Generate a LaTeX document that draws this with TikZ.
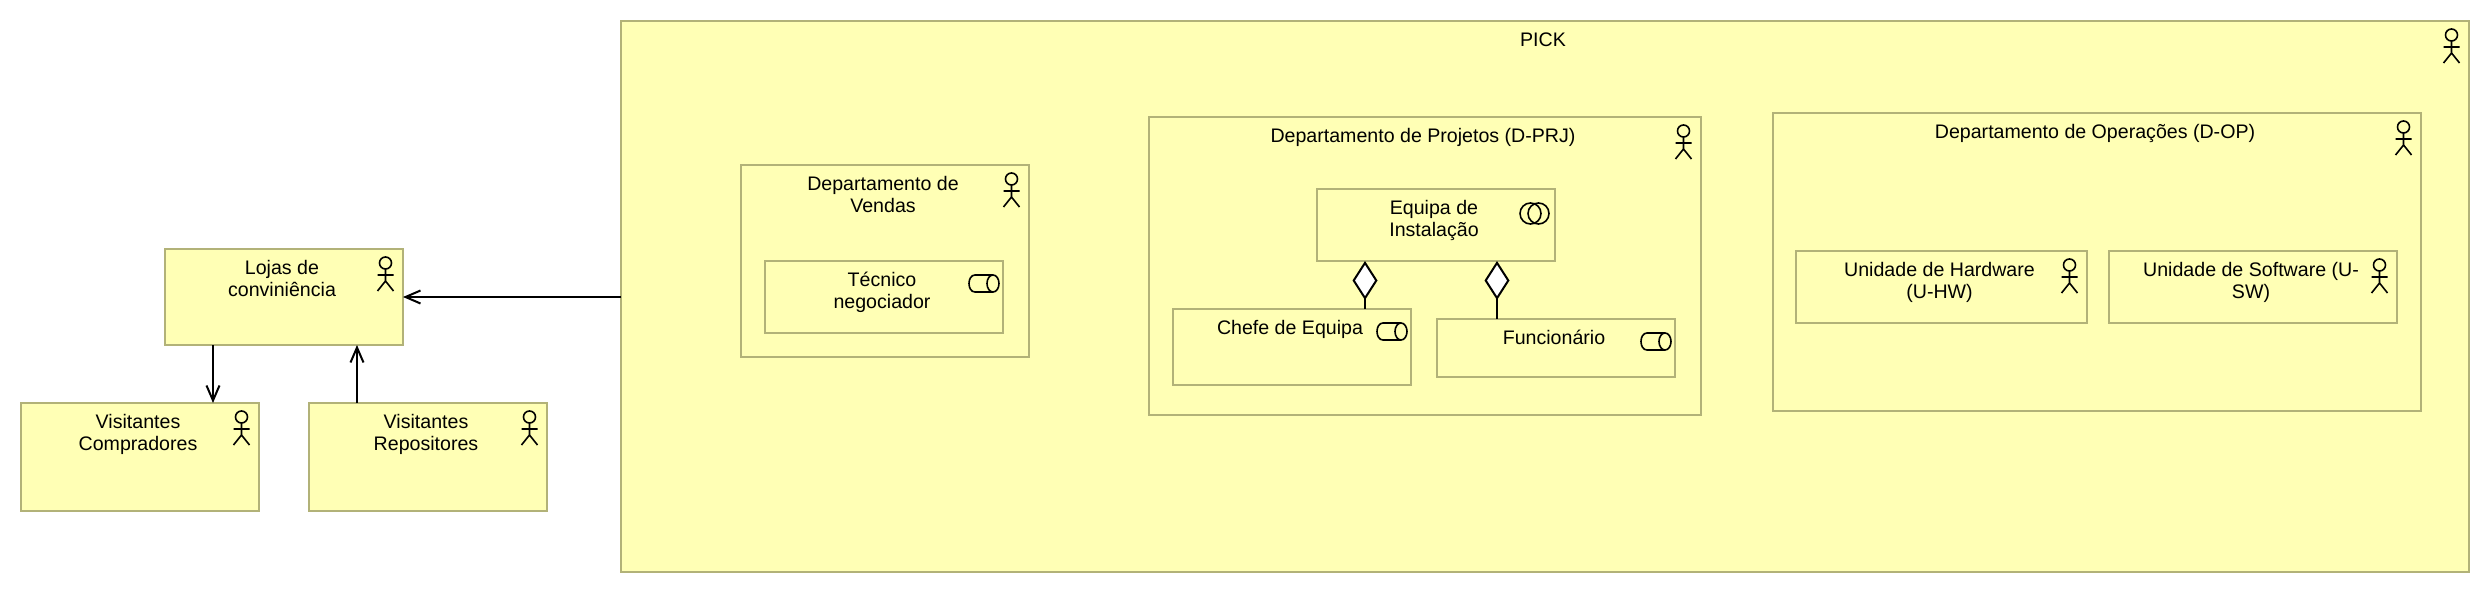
\documentclass[tikz,border=0pt]{standalone}
\usepackage{fontspec}
\setmainfont{Liberation Sans}
\usetikzlibrary{arrows.meta,positioning}
\definecolor{boxfill}{RGB}{255,255,181}
\definecolor{boxline}{RGB}{178,178,120}
\tikzset{
  actorfig/.pic={
    \draw (0,6) circle [radius=3pt];
    \draw (0,12) -- (0,24) (-8,18) -- (8,18) (-8,34) -- (0,24) -- (8,34);
  },
  rolefig/.pic={
    \draw (24,0) -- (6,0) .. controls (-2,0) and (-2,17) .. (6,17) -- (24,17);
    \draw (24,8.5) ellipse [x radius=6, y radius=8.5];
  },
  groupfig/.pic={
    \draw (10.5,10.5) circle [radius=5.25pt];
    \draw (18.5,10.5) circle [radius=5.25pt];
  }
}

\begin{document}
\begin{tikzpicture}
[x=0.5pt, y=-0.5pt, font=\fontsize{9.8}{11}\selectfont,
% STYLES
% The unit style is used to draw the frame of each element
unit/.style={rectangle, draw=boxline, fill=boxfill, line width=1pt, anchor=north west, inner sep=0pt, outer sep=0pt},
% The title style is used to write the name at the top of a frame
title/.style={inner sep=0pt, align=center, xshift=-1pt},
% The icon style is used for the small figures in the corners
every pic/.style={line width=0.8pt},
flow/.style={->, >={Straight Barb[length=7.5pt,width=6.5pt]}, line width=1pt},
part/.style={-{Diamond[fill=white,length=19.5pt,width=12.5pt]}, line width=1pt}]

\useasboundingbox (0,0) rectangle (2490,594);

% Draw frames
\node [unit, minimum width=924pt, minimum height=275.5pt] (pick) at (621,21) {};
\node [unit, minimum width=144pt, minimum height=96pt] (vendas) at (741,165) {};
\node [unit, minimum width=119pt, minimum height=36pt] (tecnico) at (765,261) {};
\node [unit, minimum width=276pt, minimum height=149pt] (projetos) at (1149,117) {};
\node [unit, minimum width=119pt, minimum height=36pt] (equipa) at (1317,189) {};
\node [unit, minimum width=119pt, minimum height=38pt] (chefe) at (1173,309) {};
\node [unit, minimum width=119pt, minimum height=29pt] (funcionario) at (1437,319) {};
\node [unit, minimum width=324pt, minimum height=149pt] (operacoes) at (1773,113) {};
\node [unit, minimum width=145.5pt, minimum height=36pt] (hardware) at (1796,251) {};
\node [unit, minimum width=144pt, minimum height=36pt] (software) at (2109,251) {};
\node [unit, minimum width=119pt, minimum height=48pt] (lojas) at (165,249) {};
\node [unit, minimum width=119pt, minimum height=54pt] (compradores) at (21,403) {};
\node [unit, minimum width=119pt, minimum height=54pt] (repositores) at (309,403) {};

%%%%%%%%%%%%%%%
% Names

\node [title, below=5.5pt of pick.north] (title-pick) {PICK};
\node [title, below=5.5pt of vendas.north] (title-vendas) {Departamento de\\Vendas};
\node [title, below=5.5pt of tecnico.north] (title-tecnico) {Técnico\\negociador};
\node [title, below=5.5pt of projetos.north] (title-projetos) {Departamento de Projetos (D-PRJ)};
\node [title, below=5.5pt of equipa.north] (title-equipa) {Equipa de\\Instalação};
\node [title, below=5.5pt of chefe.north] (title-chefe) {Chefe de Equipa};
\node [title, below=5.5pt of funcionario.north] (title-funcionario) {Funcionário};
\node [title, below=5.5pt of operacoes.north] (title-operacoes) {Departamento de Operações (D-OP)};
\node [title, below=5.5pt of hardware.north] (title-hardware) {Unidade de Hardware\\(U-HW)};
\node [title, below=5.5pt of software.north] (title-software) {Unidade de Software (U-\\SW)};
\node [title, below=5.5pt of lojas.north] (title-lojas) {Lojas de\\conviniência};
\node [title, below=5.5pt of compradores.north] (title-compradores) {Visitantes\\Compradores};
\node [title, below=5.5pt of repositores.north] (title-repositores) {Visitantes\\Repositores};

%%%%%%%%%%%%%%%
% Corner figures

\pic at ([xshift=-8.75pt,yshift=-4pt]pick.north east) {actorfig};
\pic at ([xshift=-8.75pt,yshift=-4pt]vendas.north east) {actorfig};
\pic at ([xshift=-8.75pt,yshift=-4pt]projetos.north east) {actorfig};
\pic at ([xshift=-8.75pt,yshift=-4pt]operacoes.north east) {actorfig};
\pic at ([xshift=-8.75pt,yshift=-4pt]hardware.north east) {actorfig};
\pic at ([xshift=-8.75pt,yshift=-4pt]software.north east) {actorfig};
\pic at ([xshift=-8.75pt,yshift=-4pt]lojas.north east) {actorfig};
\pic at ([xshift=-8.75pt,yshift=-4pt]compradores.north east) {actorfig};
\pic at ([xshift=-8.75pt,yshift=-4pt]repositores.north east) {actorfig};
\pic at ([xshift=-17pt,yshift=-7pt]tecnico.north east) {rolefig};
\pic at ([xshift=-17pt,yshift=-7pt]chefe.north east) {rolefig};
\pic at ([xshift=-17pt,yshift=-7pt]funcionario.north east) {rolefig};
\pic at ([xshift=-17.5pt,yshift=-7pt]equipa.north east) {groupfig};

% Draw the links between frames
\path[flow]
(pick.west |- lojas.east) edge (lojas.east)
([xshift=24pt]lojas.south west) edge ([xshift=96pt]compradores.north west)
([xshift=24pt]repositores.north west) edge ([xshift=96pt]lojas.south west);
\path[part]
([xshift=96pt]chefe.north west) edge ([xshift=24pt]equipa.south west)
([xshift=30pt]funcionario.north west) edge ([xshift=90pt]equipa.south west);

\end{tikzpicture}
\end{document}
